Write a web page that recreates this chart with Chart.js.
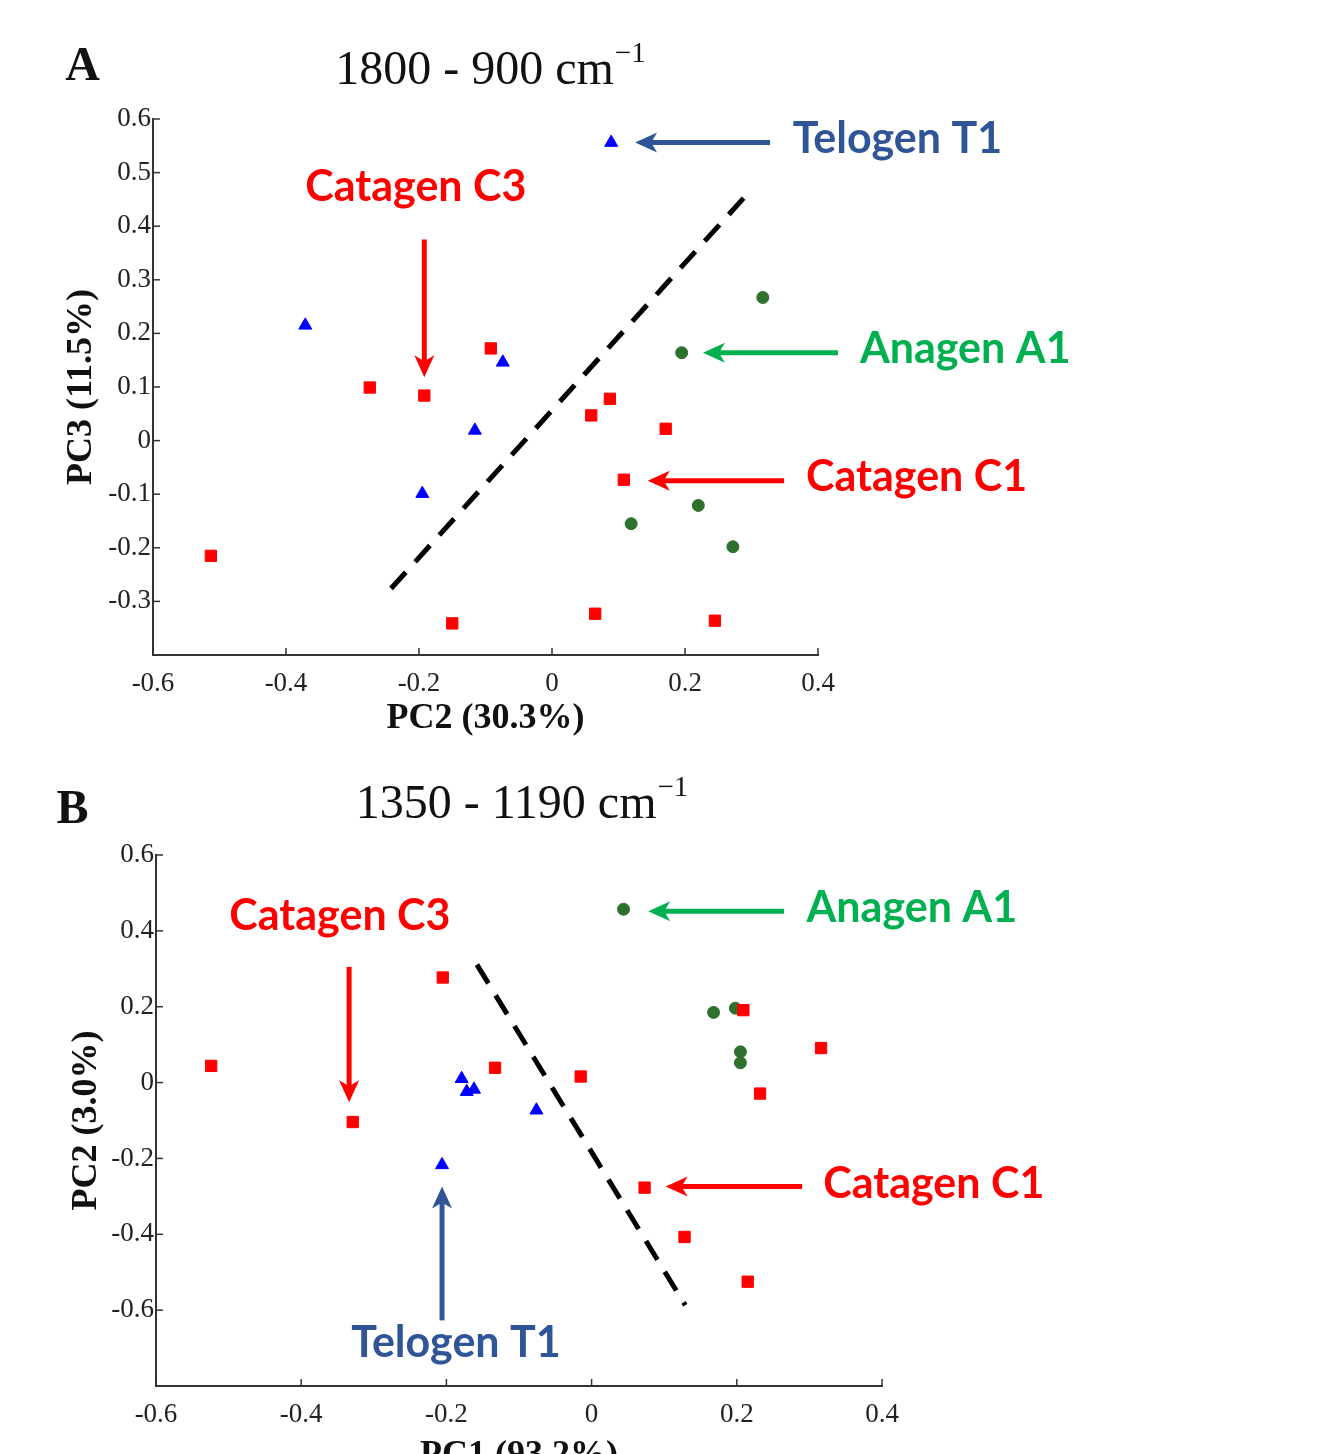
<!DOCTYPE html>
<html>
<head>
<meta charset="utf-8">
<title>PCA scores</title>
<script src="https://cdn.jsdelivr.net/npm/chart.js@4.4.1/dist/chart.umd.min.js"></script>
<style>
    body { margin: 0; background: #fff; }
    .panel { position: absolute; left: 0; }
</style>
</head>
<body>
<canvas id="chartA" class="panel" style="top:0" width="1326" height="760"></canvas>
<canvas id="chartB" class="panel" style="top:760px" width="1326" height="694"></canvas>
<script>
// ---- panel A : 1800 - 900 cm-1, PC2 vs PC3 ----
var aTelogenX = [0.089, -0.371, -0.074, -0.116, -0.195];
var aTelogenY = [0.556, 0.215, 0.146, 0.019, -0.099];
var aCatagenX = [-0.092, -0.274, -0.192, 0.087, 0.059, 0.171, 0.108, -0.513, -0.150, 0.065, 0.245];
var aCatagenY = [0.172, 0.099, 0.084, 0.078, 0.047, 0.022, -0.073, -0.215, -0.341, -0.323, -0.336];
var aAnagenX = [0.317, 0.195, 0.220, 0.119, 0.272];
var aAnagenY = [0.267, 0.164, -0.121, -0.155, -0.198];
var aSplitX = [-0.242, 0.290];
var aSplitY = [-0.276, 0.455];
var aXTicks = [-0.6, -0.4, -0.2, 0, 0.2, 0.4];
var aYTicks = [-0.3, -0.2, -0.1, 0, 0.1, 0.2, 0.3, 0.4, 0.5, 0.6];

// ---- panel B : 1350 - 1190 cm-1, PC1 vs PC2 ----
var bTelogenX = [-0.179, -0.172, -0.162, -0.076, -0.206];
var bTelogenY = [0.010, -0.024, -0.018, -0.073, -0.217];
var bCatagenX = [-0.205, 0.209, 0.316, -0.524, -0.133, -0.015, 0.232, -0.329, 0.073, 0.128, 0.215];
var bCatagenY = [0.277, 0.191, 0.091, 0.044, 0.039, 0.016, -0.029, -0.104, -0.277, -0.407, -0.525];
var bAnagenX = [0.044, 0.168, 0.198, 0.205, 0.205];
var bAnagenY = [0.457, 0.185, 0.196, 0.081, 0.052];
var bSplitX = [-0.158, 0.129];
var bSplitY = [0.311, -0.587];
var bXTicks = [-0.6, -0.4, -0.2, 0, 0.2, 0.4];
var bYTicks = [-0.6, -0.4, -0.2, 0, 0.2, 0.4, 0.6];

var RED = '#ff0000', BLUE = '#2f5597', GREEN = '#00b050';
var NOTE_FONT = 'bold 43px Lato';

var pts = function (xs, ys) {
    return xs.map(function (x, i) { return {x: x, y: ys[i]}; });
};

var fmt = function (v) {
    return String(Math.round(v * 10) / 10);
};

var drawArrow = function (ctx, x0, y0, x1, y1, color) {
    var ang = Math.atan2(y1 - y0, x1 - x0);
    var hl = 22, hw = 10;
    var bx = x1 - Math.cos(ang) * hl, by = y1 - Math.sin(ang) * hl;
    ctx.strokeStyle = color;
    ctx.fillStyle = color;
    ctx.lineWidth = 5;
    ctx.beginPath();
    ctx.moveTo(x0, y0);
    ctx.lineTo(x1 - Math.cos(ang) * 10, y1 - Math.sin(ang) * 10);
    ctx.stroke();
    ctx.beginPath();
    ctx.moveTo(x1, y1);
    ctx.lineTo(bx - Math.sin(ang) * hw, by + Math.cos(ang) * hw);
    ctx.lineTo(x1 - Math.cos(ang) * (hl - 6), y1 - Math.sin(ang) * (hl - 6));
    ctx.lineTo(bx + Math.sin(ang) * hw, by - Math.cos(ang) * hw);
    ctx.closePath();
    ctx.fill();
};

// arrows, coloured labels, heading and inward ticks
var notesPlugin = {
    id: 'notes',
    afterDraw: function (chart, args, opts) {
        var ctx = chart.ctx;
        var xs = chart.scales.x, ys = chart.scales.y;
        var px = function (v) { return xs.getPixelForValue(v); };
        var py = function (v) { return ys.getPixelForValue(v); };
        ctx.save();

        ctx.strokeStyle = '#333';
        ctx.lineWidth = 1.5;
        xs.ticks.forEach(function (t) {
            ctx.beginPath();
            ctx.moveTo(px(t.value), ys.bottom);
            ctx.lineTo(px(t.value), ys.bottom - 7);
            ctx.stroke();
        });
        ys.ticks.forEach(function (t) {
            ctx.beginPath();
            ctx.moveTo(xs.left, py(t.value));
            ctx.lineTo(xs.left + 7, py(t.value));
            ctx.stroke();
        });

        opts.arrows.forEach(function (a) {
            drawArrow(ctx, px(a.from[0]), py(a.from[1]), px(a.to[0]), py(a.to[1]), a.color);
        });

        ctx.textBaseline = 'middle';
        ctx.textAlign = 'left';
        ctx.font = NOTE_FONT;
        opts.labels.forEach(function (l) {
            ctx.fillStyle = l.color;
            ctx.fillText(l.text, px(l.at[0]), py(l.at[1]));
        });

        // panel letter and wavenumber range
        ctx.fillStyle = '#111';
        ctx.font = 'bold 48px "Liberation Serif"';
        ctx.fillText(opts.letter.text, px(opts.letter.at[0]), py(opts.letter.at[1]));
        ctx.font = '48px "Liberation Serif"';
        var hx = px(opts.heading.at[0]), hy = py(opts.heading.at[1]);
        ctx.fillText(opts.heading.text, hx, hy);
        var w = ctx.measureText(opts.heading.text).width;
        ctx.font = '29px "Liberation Serif"';
        ctx.fillText('\u22121', hx + w + 1, hy - 17);

        ctx.restore();
    }
};

var makeChart = function (id, series, xTicks, yTicks, yMin, titles, pad, yWidth, xHeight, xTitlePad, yTitlePad, notes) {
    var ctx = document.getElementById(id).getContext('2d');
    return new Chart(ctx, {
        type: 'scatter',
        data: {
            datasets: [{
                label: 'Catagen',
                data: series.catagen,
                pointStyle: 'rect',
                pointRadius: 8,
                backgroundColor: '#ff0000',
                borderColor: '#ff0000',
                borderWidth: 1
            }, {
                label: 'Anagen',
                data: series.anagen,
                pointStyle: 'circle',
                pointRadius: 6,
                backgroundColor: '#2e702e',
                borderColor: '#2e702e',
                borderWidth: 1
            }, {
                label: 'Telogen',
                data: series.telogen,
                pointStyle: 'triangle',
                pointRadius: 7.5,
                backgroundColor: '#0000ff',
                borderColor: '#0000ff',
                borderWidth: 1
            }, {
                type: 'line',
                label: 'split',
                data: series.split,
                showLine: true,
                borderColor: '#000',
                borderWidth: 5,
                borderDash: [22, 14],
                pointRadius: 0,
                fill: false
            }]
        },
        options: {
            responsive: false,
            animation: false,
            layout: {padding: pad},
            plugins: {
                legend: {display: false},
                tooltip: {enabled: false},
                notes: notes
            },
            scales: {
                x: {
                    type: 'linear',
                    min: xTicks[0],
                    max: xTicks[xTicks.length - 1],
                    afterBuildTicks: function (scale) {
                        scale.ticks = xTicks.map(function (v) { return {value: v}; });
                    },
                    afterFit: function (scale) { scale.height = xHeight; },
                    grid: {display: false, drawTicks: false, tickLength: 0},
                    border: {display: true, color: '#333', width: 2},
                    ticks: {
                        padding: 13,
                        color: '#222',
                        font: {family: 'Liberation Serif', size: 27},
                        callback: fmt
                    },
                    title: {
                        display: true,
                        text: titles[0],
                        color: '#111',
                        padding: {top: 0, bottom: xTitlePad},
                        font: {family: 'Liberation Serif', size: 36, weight: 'bold'}
                    }
                },
                y: {
                    type: 'linear',
                    min: yMin,
                    max: yTicks[yTicks.length - 1],
                    afterBuildTicks: function (scale) {
                        scale.ticks = yTicks.map(function (v) { return {value: v}; });
                    },
                    afterFit: function (scale) { scale.width = yWidth; },
                    grid: {display: false, drawTicks: false, tickLength: 0},
                    border: {display: true, color: '#333', width: 2},
                    ticks: {
                        padding: 2,
                        color: '#222',
                        font: {family: 'Liberation Serif', size: 27},
                        callback: fmt
                    },
                    title: {
                        display: true,
                        text: titles[1],
                        color: '#111',
                        padding: {top: yTitlePad, bottom: 0},
                        font: {family: 'Liberation Serif', size: 36, weight: 'bold'}
                    }
                }
            }
        },
        plugins: [notesPlugin]
    });
};

makeChart('chartA', {
    telogen: pts(aTelogenX, aTelogenY),
    catagen: pts(aCatagenX, aCatagenY),
    anagen: pts(aAnagenX, aAnagenY),
    split: pts(aSplitX, aSplitY)
}, aXTicks, aYTicks, -0.4, ['PC2 (30.3%)', 'PC3 (11.5%)'],
    {left: 50, right: 508, top: 119, bottom: 15}, 103, 90, 5, 10, {
    letter: {text: 'A', at: [-0.732, 0.696]},
    heading: {text: '1800 - 900 cm', at: [-0.326, 0.688]},
    arrows: [
        {from: [0.328, 0.556], to: [0.125, 0.556], color: BLUE},
        {from: [-0.192, 0.375], to: [-0.192, 0.118], color: RED},
        {from: [0.430, 0.164], to: [0.227, 0.164], color: GREEN},
        {from: [0.349, -0.075], to: [0.144, -0.075], color: RED}
    ],
    labels: [
        {text: 'Telogen T1', at: [0.362, 0.562], color: BLUE},
        {text: 'Catagen C3', at: [-0.371, 0.472], color: RED},
        {text: 'Anagen A1', at: [0.463, 0.170], color: GREEN},
        {text: 'Catagen C1', at: [0.382, -0.069], color: RED}
    ]
});

makeChart('chartB', {
    telogen: pts(bTelogenX, bTelogenY),
    catagen: pts(bCatagenX, bCatagenY),
    anagen: pts(bAnagenX, bAnagenY),
    split: pts(bSplitX, bSplitY)
}, bXTicks, bYTicks, -0.8, ['PC1 (93.2%)', 'PC2 (3.0%)'],
    {left: 50, right: 444, top: 95, bottom: 0}, 106, 68, -23, 15, {
    letter: {text: 'B', at: [-0.737, 0.718]},
    heading: {text: '1350 - 1190 cm', at: [-0.325, 0.731]},
    arrows: [
        {from: [-0.334, 0.305], to: [-0.334, -0.052], color: RED},
        {from: [0.265, 0.452], to: [0.078, 0.452], color: GREEN},
        {from: [0.290, -0.274], to: [0.102, -0.274], color: RED},
        {from: [-0.206, -0.627], to: [-0.206, -0.274], color: BLUE}
    ],
    labels: [
        {text: 'Catagen C3', at: [-0.499, 0.439], color: RED},
        {text: 'Anagen A1', at: [0.296, 0.460], color: GREEN},
        {text: 'Catagen C1', at: [0.319, -0.269], color: RED},
        {text: 'Telogen T1', at: [-0.331, -0.687], color: BLUE}
    ]
});
</script>
</body>
</html>
